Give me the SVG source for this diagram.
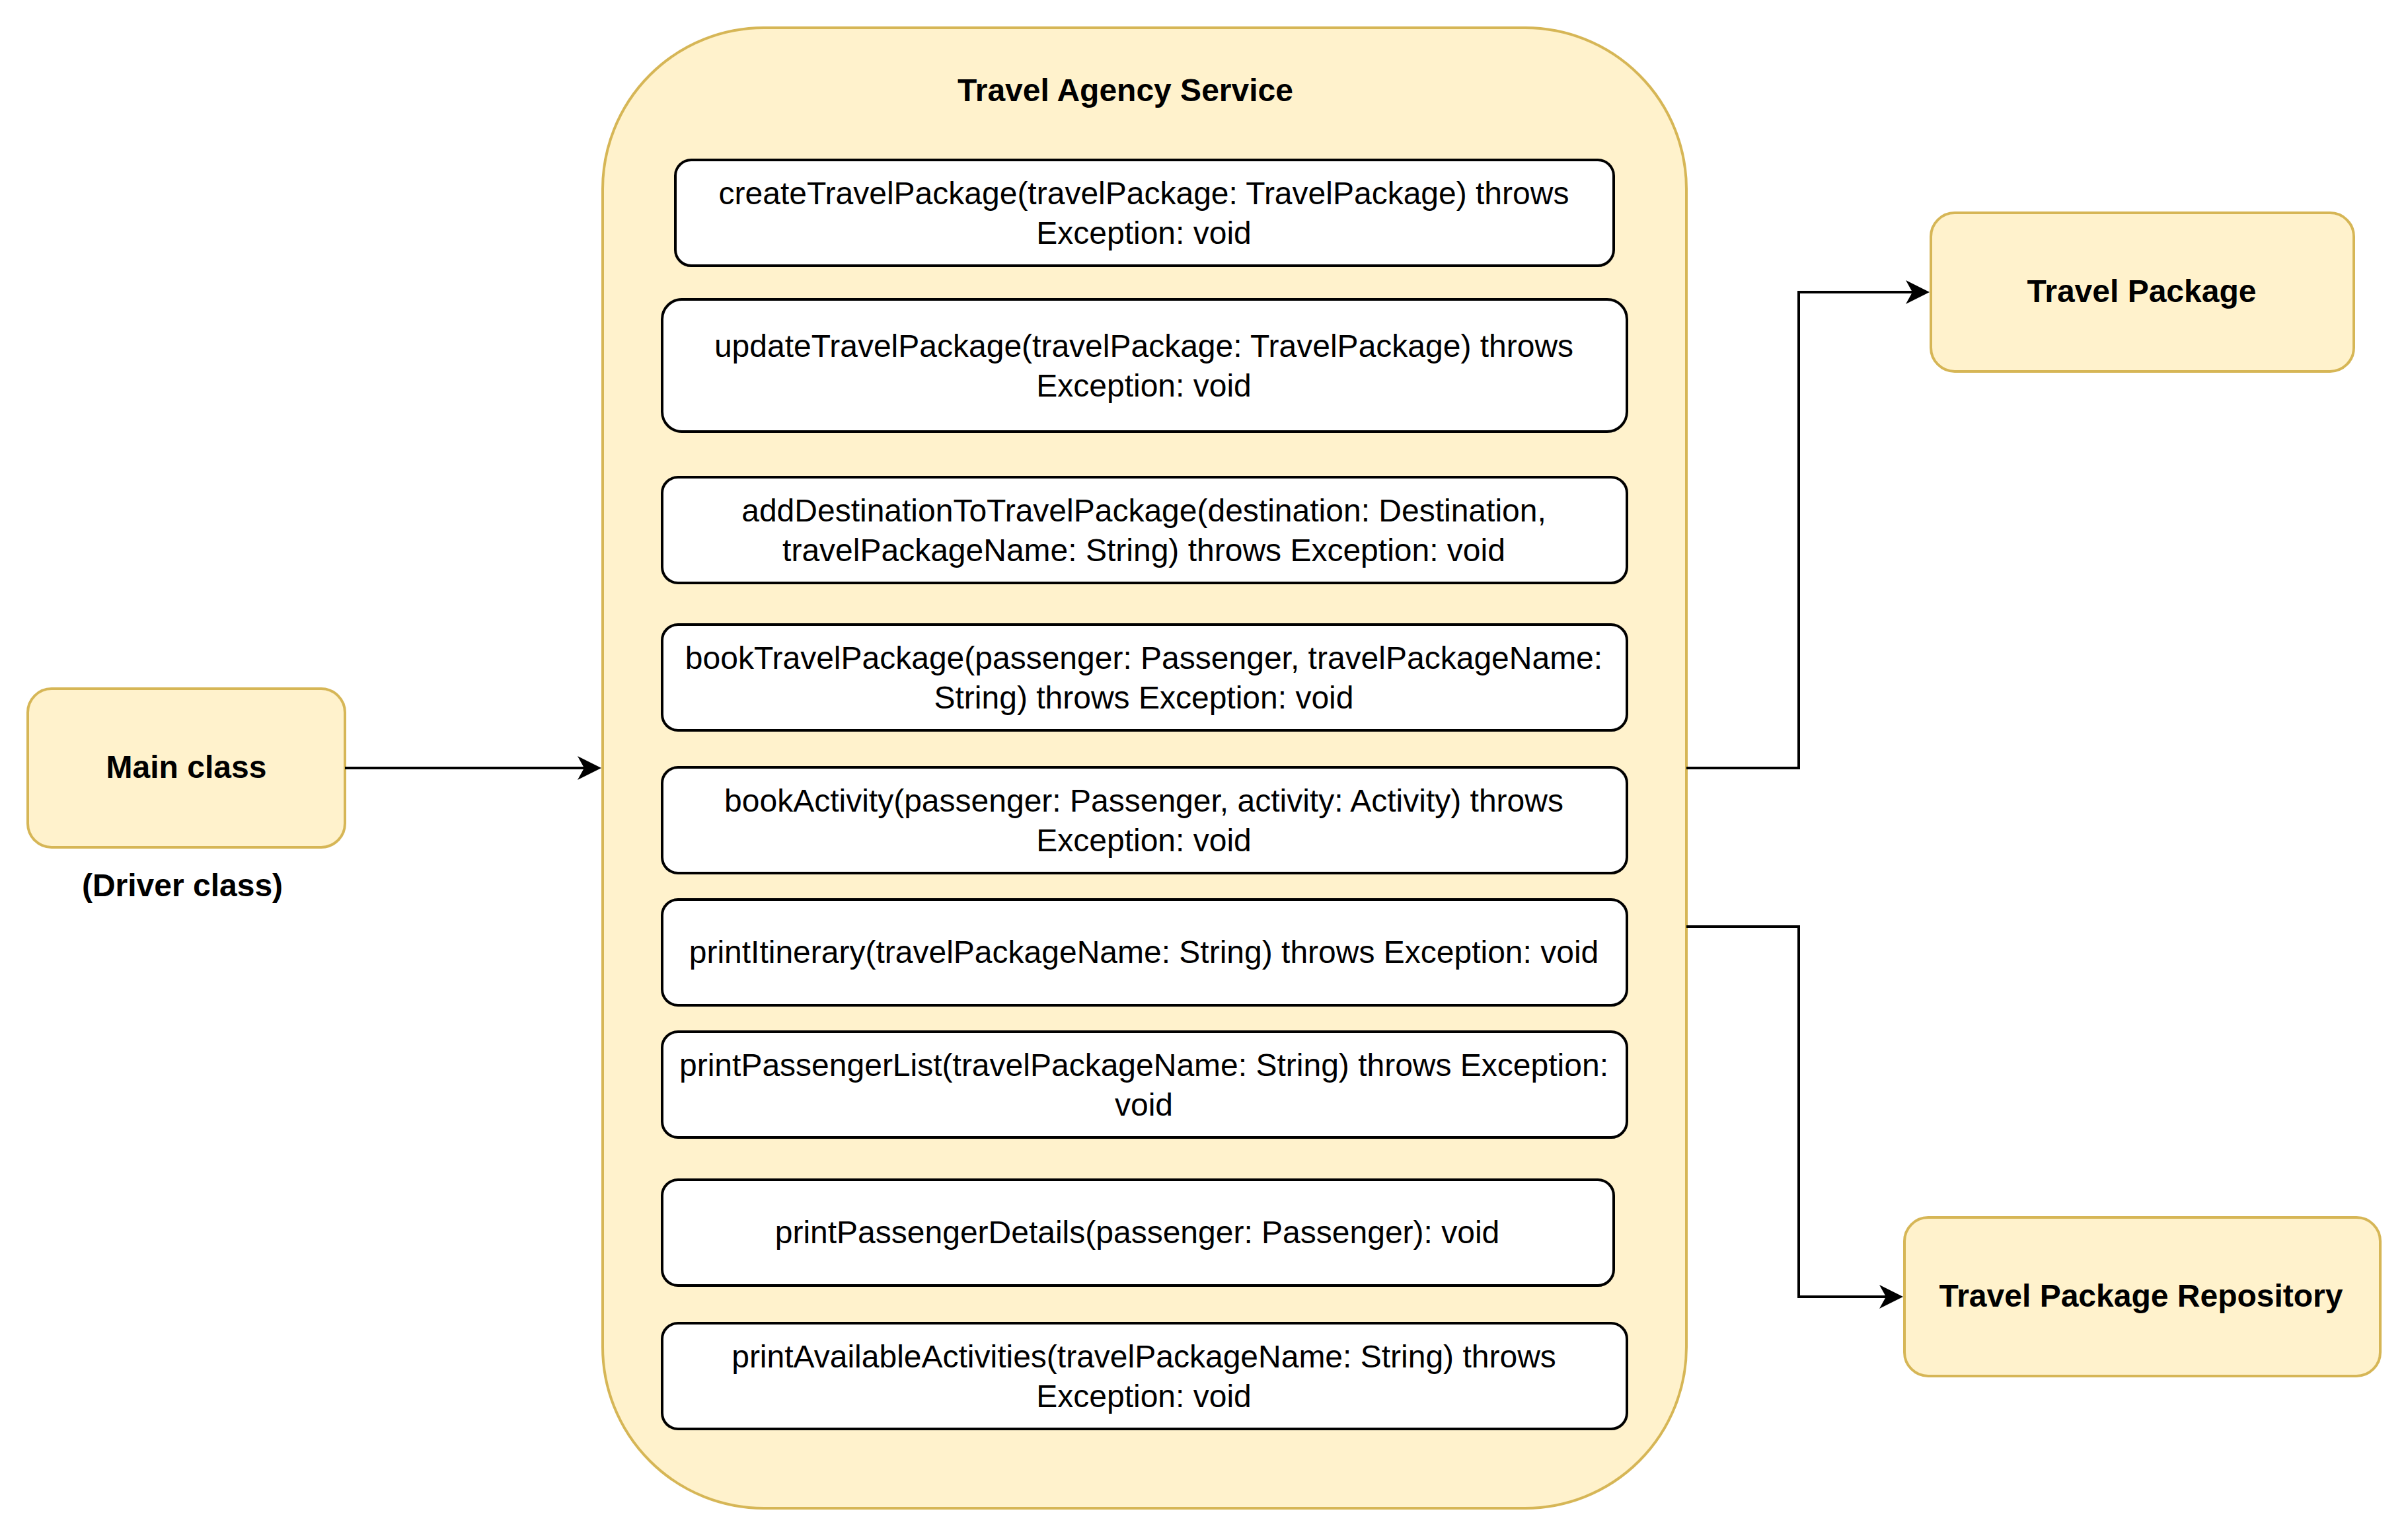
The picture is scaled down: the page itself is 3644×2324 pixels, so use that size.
<svg xmlns="http://www.w3.org/2000/svg" width="3644" height="2324" viewBox="0 0 3644 2324">
<style>
.yel{fill:#fff2cc;stroke:#d6b656;stroke-width:4}
.meth{fill:#ffffff;stroke:#000000;stroke-width:4}
.t{font-family:"Liberation Sans",Arial,Helvetica,sans-serif;font-size:48px;fill:#000;text-anchor:middle}
.b{font-weight:bold}
.edge{fill:none;stroke:#000;stroke-width:4}
</style>
<defs>
<marker id="arr" viewBox="-40 -20 42 40" refX="-10" refY="0" markerWidth="42" markerHeight="40" markerUnits="userSpaceOnUse" orient="auto">
<path d="M0,0 L-36,-18 L-26,0 L-36,18 Z" fill="#000"/>
</marker>
</defs>
<rect width="3644" height="2324" fill="#ffffff"/>
<g id="main-class">
<rect class="yel" x="42" y="1042" width="480" height="240" rx="36" ry="36"/>
<text class="t b" x="282" y="1177">Main class</text>
</g>
<g id="driver-label">
<text class="t b" x="276" y="1356">(Driver class)</text>
</g>
<g id="travel-agency-service">
<rect class="yel" x="912" y="42" width="1640" height="2240" rx="244" ry="244"/>
<text class="t b" x="1703" y="153">Travel Agency Service</text>
</g>
<g id="m1">
<rect class="meth" x="1022" y="242" width="1420" height="160" rx="24" ry="24"/>
<text class="t" x="1731" y="309">createTravelPackage(travelPackage: TravelPackage) throws</text>
<text class="t" x="1731" y="369">Exception: void</text>
</g>
<g id="m2">
<rect class="meth" x="1002" y="453" width="1460" height="200" rx="30" ry="30"/>
<text class="t" x="1731" y="540">updateTravelPackage(travelPackage: TravelPackage) throws</text>
<text class="t" x="1731" y="600">Exception: void</text>
</g>
<g id="m3">
<rect class="meth" x="1002" y="722" width="1460" height="160" rx="24" ry="24"/>
<text class="t" x="1731" y="789">addDestinationToTravelPackage(destination: Destination,</text>
<text class="t" x="1731" y="849">travelPackageName: String) throws Exception: void</text>
</g>
<g id="m4">
<rect class="meth" x="1002" y="945" width="1460" height="160" rx="24" ry="24"/>
<text class="t" x="1731" y="1012">bookTravelPackage(passenger: Passenger, travelPackageName:</text>
<text class="t" x="1731" y="1072">String) throws Exception: void</text>
</g>
<g id="m5">
<rect class="meth" x="1002" y="1161" width="1460" height="160" rx="24" ry="24"/>
<text class="t" x="1731" y="1228">bookActivity(passenger: Passenger, activity: Activity) throws</text>
<text class="t" x="1731" y="1288">Exception: void</text>
</g>
<g id="m6">
<rect class="meth" x="1002" y="1361" width="1460" height="160" rx="24" ry="24"/>
<text class="t" x="1731" y="1457">printItinerary(travelPackageName: String) throws Exception: void</text>
</g>
<g id="m7">
<rect class="meth" x="1002" y="1561" width="1460" height="160" rx="24" ry="24"/>
<text class="t" x="1731" y="1628">printPassengerList(travelPackageName: String) throws Exception:</text>
<text class="t" x="1731" y="1688">void</text>
</g>
<g id="m8">
<rect class="meth" x="1002" y="1785" width="1440" height="160" rx="24" ry="24"/>
<text class="t" x="1721" y="1881">printPassengerDetails(passenger: Passenger): void</text>
</g>
<g id="m9">
<rect class="meth" x="1002" y="2002" width="1460" height="160" rx="24" ry="24"/>
<text class="t" x="1731" y="2069">printAvailableActivities(travelPackageName: String) throws</text>
<text class="t" x="1731" y="2129">Exception: void</text>
</g>
<g id="travel-package">
<rect class="yel" x="2922" y="322" width="640" height="240" rx="36" ry="36"/>
<text class="t b" x="3241" y="457">Travel Package</text>
</g>
<g id="travel-package-repository">
<rect class="yel" x="2882" y="1842" width="720" height="240" rx="36" ry="36"/>
<text class="t b" x="3240" y="1977">Travel Package Repository</text>
</g>
<g id="connectors">
<path class="edge" d="M522,1162 L900,1162" marker-end="url(#arr)"/>
<path class="edge" d="M2552,1162 H2722 V442 H2910" marker-end="url(#arr)"/>
<path class="edge" d="M2552,1402 H2722 V1962 H2870" marker-end="url(#arr)"/>
</g>
</svg>
